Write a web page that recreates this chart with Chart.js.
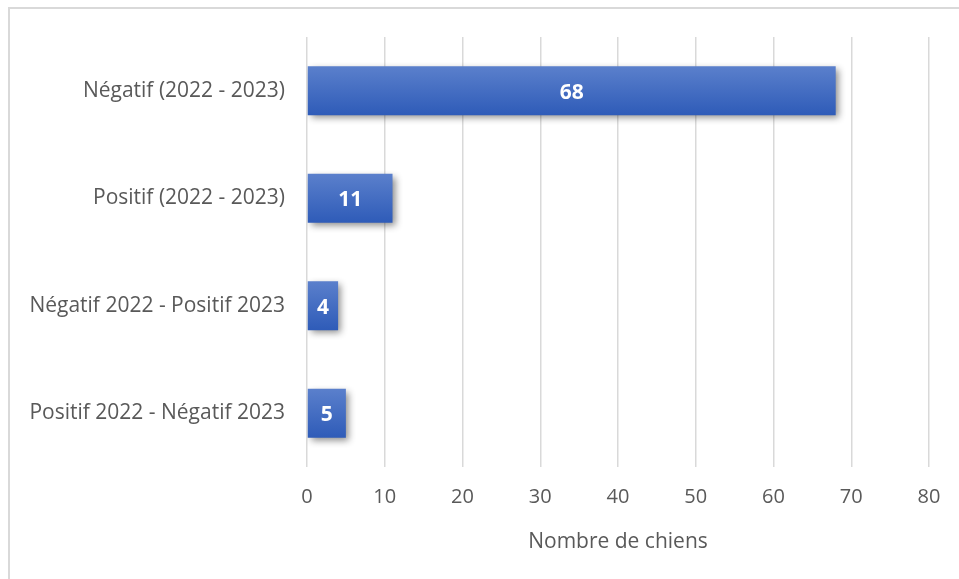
<!DOCTYPE html>
<html>
<head>
<meta charset="utf-8">
<script src="https://cdn.jsdelivr.net/npm/chart.js@4"></script>
<style>
  html, body { margin: 0; padding: 0; background: #fff; }
  #wrap { width: 959px; height: 579px; position: relative; }
</style>
</head>
<body>
<div id="wrap"><canvas id="chiens" width="959" height="579"></canvas></div>
<script>
const categories = ['Négatif (2022 - 2023)', 'Positif (2022 - 2023)', 'Négatif 2022 - Positif 2023', 'Positif 2022 - Négatif 2023']
const chiens = [68, 11, 4, 5]
const xTicks = [0, 10, 20, 30, 40, 50, 60, 70, 80]

const FONT = '"Open Sans", Lato, sans-serif'
const GREY = '#595959'

// frame around the chart (left / top edges visible)
const frame = {
    id: 'frame',
    beforeDraw(chart) {
        const c = chart.ctx
        c.save()
        c.fillStyle = '#fff'
        c.fillRect(0, 0, chart.width, chart.height)
        c.strokeStyle = '#d9d9d9'
        c.lineWidth = 2
        c.strokeRect(9, 8, 2000, 2000)
        c.restore()
    }
}

// drop shadow behind bars
const shadow = {
    id: 'shadow',
    beforeDatasetsDraw(chart) {
        const c = chart.ctx
        c.save()
        c.shadowColor = 'rgba(0,0,0,0.45)'
        c.shadowBlur = 7
        c.shadowOffsetX = 3
        c.shadowOffsetY = 3
    },
    afterDatasetsDraw(chart) {
        chart.ctx.restore()
    }
}

// white value labels in the middle of each bar
const labels = {
    id: 'labels',
    afterDatasetsDraw(chart) {
        const c = chart.ctx
        const meta = chart.getDatasetMeta(0)
        c.save()
        c.fillStyle = '#fff'
        c.font = 'bold 21px ' + FONT
        c.textAlign = 'center'
        c.textBaseline = 'middle'
        meta.data.forEach((bar, i) => {
            c.fillText(chiens[i], (bar.x + bar.base) / 2, bar.y + 2)
        })
        c.restore()
    }
}

function barFill(ctx) {
    const chart = ctx.chart
    const y = chart.scales.y
    if (!chart.chartArea || !y || ctx.dataIndex === undefined) return '#4472c4'
    const mid = y.getPixelForValue(ctx.dataIndex)
    const g = chart.ctx.createLinearGradient(0, mid - 25, 0, mid + 25)
    g.addColorStop(0, '#5b80cc')
    g.addColorStop(1, '#2e5bb8')
    return g
}

new Chart(document.getElementById('chiens'), {
    type: 'bar',
    data: {
        labels: categories,
        datasets: [{
            data: chiens,
            backgroundColor: barFill,
            borderWidth: 0,
            categoryPercentage: 1,
            barPercentage: 0.455
        }]
    },
    options: {
        indexAxis: 'y',
        responsive: false,
        animation: false,
        layout: { padding: { top: 37, right: 30, bottom: 10, left: 0 } },
        plugins: { legend: { display: false }, tooltip: { enabled: false } },
        scales: {
            x: {
                min: 0,
                max: 80,
                afterBuildTicks(scale) { scale.ticks = xTicks.map(v => ({ value: v })) },
                grid: { color: '#d9d9d9', lineWidth: 1.5, drawTicks: false },
                border: { display: false },
                ticks: { color: GREY, font: { family: FONT, size: 20 }, padding: 18 },
                title: { display: true, text: 'Nombre de chiens', color: GREY, font: { family: FONT, size: 21 }, padding: { top: 1, bottom: 14 } },
                afterFit(scale) { scale.height = 579 - 467 - 10 }
            },
            y: {
                grid: { display: false, drawTicks: false },
                border: { display: false },
                ticks: { color: GREY, font: { family: FONT, size: 21 }, padding: 22 },
                afterFit(scale) { scale.width = 307 }
            }
        }
    },
    plugins: [frame, shadow, labels]
})
</script>
</body>
</html>
